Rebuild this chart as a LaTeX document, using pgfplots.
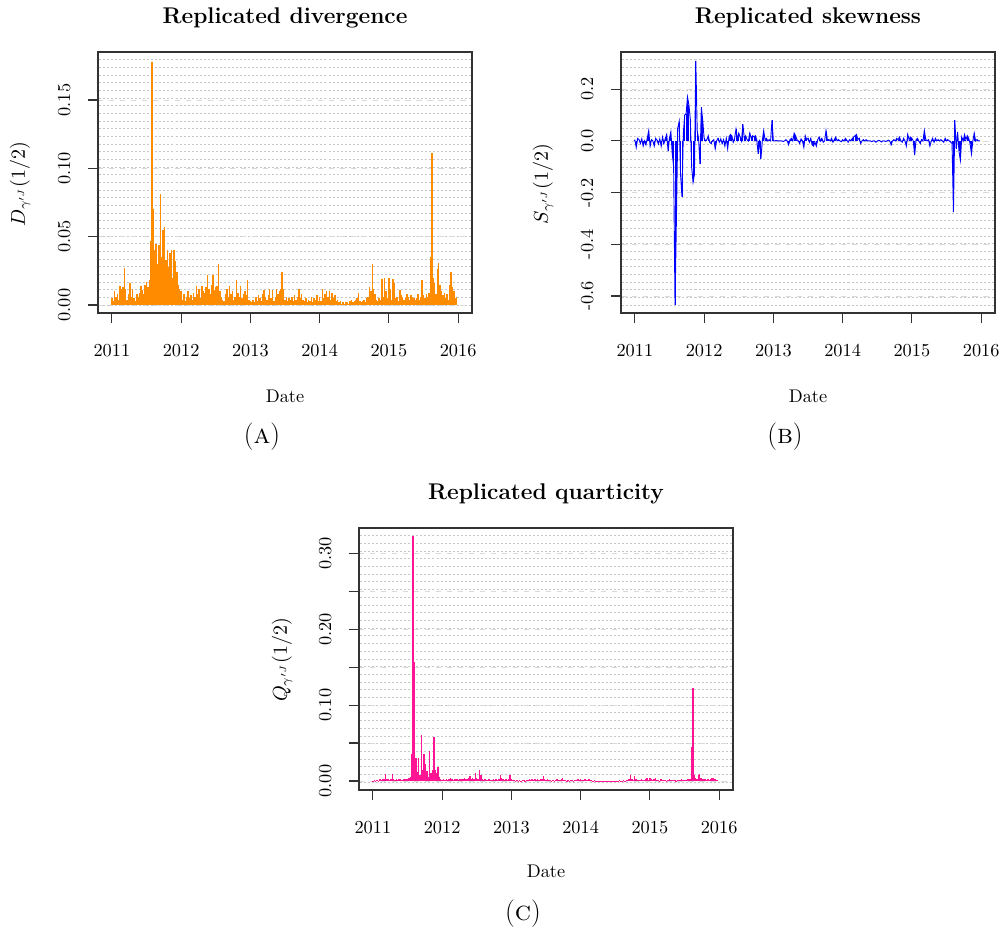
\documentclass[border=0pt]{standalone}
\usepackage{pgfplots}
\pgfplotsset{compat=1.18}
\usepackage{pgfplotstable}
\definecolor{rorange}{RGB}{255,140,0}
\definecolor{rpink}{RGB}{255,20,147}
\definecolor{rblue}{RGB}{0,0,255}

% Replicated divergence (every 0.02 year from 2011.00)
\pgfplotstableread[row sep=\\,header=false]{
0.005\\0.003\\0.010\\0.006\\0.008\\0.004\\0.014\\0.012\\0.013\\0.027\\
0.012\\0.004\\0.008\\0.016\\0.006\\0.012\\0.005\\0.003\\0.008\\0.006\\
0.009\\0.014\\0.011\\0.008\\0.015\\0.017\\0.013\\0.018\\0.047\\0.178\\
0.070\\0.040\\0.045\\0.030\\0.044\\0.081\\0.035\\0.055\\0.057\\0.033\\
0.040\\0.028\\0.038\\0.040\\0.020\\0.040\\0.032\\0.024\\0.015\\0.012\\
0.010\\0.004\\0.008\\0.003\\0.006\\0.010\\0.005\\0.007\\0.004\\0.009\\
0.006\\0.014\\0.008\\0.012\\0.005\\0.014\\0.010\\0.009\\0.013\\0.022\\
0.012\\0.008\\0.015\\0.022\\0.011\\0.013\\0.014\\0.030\\0.010\\0.006\\
0.004\\0.003\\0.008\\0.012\\0.006\\0.014\\0.008\\0.010\\0.004\\0.006\\
0.018\\0.009\\0.006\\0.014\\0.005\\0.008\\0.010\\0.007\\0.018\\0.004\\
0.003\\0.002\\0.004\\0.002\\0.006\\0.003\\0.007\\0.005\\0.003\\0.008\\
0.011\\0.006\\0.004\\0.007\\0.012\\0.005\\0.011\\0.003\\0.006\\0.012\\
0.008\\0.010\\0.012\\0.024\\0.012\\0.004\\0.006\\0.003\\0.005\\0.004\\
0.006\\0.003\\0.007\\0.004\\0.006\\0.012\\0.005\\0.008\\0.004\\0.003\\
0.005\\0.002\\0.004\\0.003\\0.006\\0.002\\0.005\\0.004\\0.007\\0.003\\
0.006\\0.003\\0.012\\0.005\\0.008\\0.010\\0.006\\0.010\\0.004\\0.009\\
0.005\\0.007\\0.003\\0.004\\0.002\\0.003\\0.001\\0.002\\0.001\\0.002\\
0.002\\0.001\\0.003\\0.004\\0.002\\0.003\\0.004\\0.005\\0.009\\0.003\\
0.002\\0.003\\0.004\\0.002\\0.005\\0.006\\0.013\\0.010\\0.030\\0.012\\
0.008\\0.004\\0.003\\0.005\\0.004\\0.019\\0.006\\0.020\\0.010\\0.005\\
0.020\\0.012\\0.004\\0.019\\0.016\\0.005\\0.006\\0.003\\0.011\\0.007\\
0.006\\0.004\\0.005\\0.008\\0.006\\0.004\\0.007\\0.006\\0.005\\0.004\\
0.005\\0.008\\0.004\\0.006\\0.018\\0.007\\0.005\\0.008\\0.006\\0.009\\
0.035\\0.111\\0.020\\0.016\\0.008\\0.026\\0.031\\0.015\\0.010\\0.007\\
0.009\\0.005\\0.008\\0.004\\0.015\\0.024\\0.013\\0.010\\0.005\\0.006\\
}\dataA

% Replicated skewness
\pgfplotstableread[row sep=\\,header=false]{
0.005\\-0.025\\0.01\\0.005\\-0.01\\0.008\\-0.02\\0.0\\-0.015\\0.012\\
0.04\\-0.02\\0.005\\0.0\\-0.02\\0.01\\0.003\\-0.012\\0.008\\-0.02\\
0.015\\-0.01\\0.01\\0.025\\-0.04\\0.012\\0.035\\-0.05\\-0.1\\-0.635\\
-0.3\\0.05\\0.075\\-0.13\\-0.215\\0.03\\0.1\\0.105\\0.17\\0.14\\
0.085\\-0.1\\-0.16\\-0.13\\0.31\\0.04\\0.01\\-0.09\\0.13\\0.08\\
0.01\\0.0\\0.005\\0.02\\-0.005\\-0.01\\0.0\\0.005\\-0.03\\0.0\\
0.01\\-0.005\\0.008\\-0.01\\0.005\\-0.02\\0.01\\-0.03\\0.015\\0.025\\
0.02\\-0.005\\0.01\\0.045\\0.005\\0.03\\0.015\\0.0\\0.065\\0.01\\
0.02\\0.005\\0.0\\0.03\\0.01\\0.02\\0.015\\0.02\\0.005\\-0.05\\
0.005\\-0.07\\0.0\\0.04\\0.005\\0.01\\0.0\\0.005\\0.0\\0.08\\
0.0\\0.0\\0.002\\0.0\\0.0\\0.0\\0.0\\-0.002\\0.0\\0.005\\
0.0\\-0.015\\0.005\\0.01\\0.0\\0.03\\0.02\\0.005\\0.0\\-0.01\\
0.008\\0.0\\-0.025\\0.02\\0.005\\0.01\\-0.005\\0.01\\-0.015\\-0.02\\
-0.005\\-0.02\\0.005\\0.015\\0.0\\0.01\\-0.005\\0.0\\0.04\\0.005\\
0.005\\0.0\\0.01\\-0.005\\0.005\\0.015\\0.0\\0.005\\0.0\\-0.003\\
0.005\\0.0\\0.01\\0.003\\-0.005\\0.005\\0.0\\0.01\\0.015\\0.02\\
0.025\\0.005\\0.01\\-0.01\\0.0\\0.005\\0.0\\0.005\\0.0\\0.0\\
0.0\\-0.003\\0.0\\0.0\\-0.005\\0.0\\0.002\\0.0\\-0.004\\0.0\\
0.0\\-0.002\\0.0\\0.003\\0.0\\-0.015\\0.0\\0.005\\0.0\\0.01\\
0.005\\0.015\\0.0\\-0.005\\0.01\\0.0\\-0.02\\0.025\\0.005\\0.015\\
0.01\\0.0\\-0.055\\0.005\\0.01\\0.0\\-0.01\\0.005\\0.0\\0.04\\
0.005\\0.0\\0.005\\-0.02\\0.0\\0.01\\-0.005\\0.01\\0.0\\0.005\\
0.0\\0.005\\0.0\\-0.005\\0.01\\0.0\\0.005\\0.0\\-0.005\\-0.01\\
-0.275\\0.08\\-0.03\\0.035\\-0.04\\-0.075\\0.015\\0.0\\0.025\\0.005\\
0.02\\0.01\\-0.01\\-0.05\\0.0\\0.03\\0.0\\0.005\\0.0\\0.0\\
}\dataB

% Replicated quarticity
\pgfplotstableread[row sep=\\,header=false]{
0.0005\\0.001\\0.0005\\0.001\\0.0005\\0.002\\0.001\\0.003\\0.002\\0.009\\
0.003\\0.002\\0.001\\0.002\\0.009\\0.002\\0.001\\0.002\\0.001\\0.003\\
0.002\\0.001\\0.002\\0.003\\0.002\\0.002\\0.004\\0.005\\0.035\\0.323\\
0.157\\0.03\\0.012\\0.03\\0.008\\0.06\\0.015\\0.035\\0.022\\0.013\\
0.005\\0.04\\0.01\\0.015\\0.058\\0.015\\0.01\\0.018\\0.005\\0.002\\
0.001\\0.002\\0.001\\0.003\\0.001\\0.002\\0.004\\0.002\\0.001\\0.003\\
0.002\\0.003\\0.001\\0.002\\0.003\\0.002\\0.004\\0.003\\0.002\\0.004\\
0.006\\0.003\\0.004\\0.002\\0.011\\0.004\\0.003\\0.014\\0.008\\0.002\\
0.001\\0.002\\0.001\\0.001\\0.002\\0.001\\0.001\\0.002\\0.001\\0.002\\
0.001\\0.003\\0.008\\0.004\\0.002\\0.001\\0.002\\0.001\\0.003\\0.008\\
0.002\\0.001\\0.001\\0.0005\\0.001\\0.0005\\0.001\\0.0005\\0.001\\0.001\\
0.0005\\0.001\\0.001\\0.002\\0.001\\0.002\\0.001\\0.002\\0.001\\0.002\\
0.001\\0.002\\0.003\\0.007\\0.002\\0.001\\0.002\\0.001\\0.001\\0.0005\\
0.001\\0.0005\\0.001\\0.002\\0.001\\0.001\\0.002\\0.004\\0.001\\0.001\\
0.0005\\0.001\\0.0005\\0.001\\0.001\\0.0005\\0.001\\0.001\\0.002\\0.001\\
0.002\\0.001\\0.001\\0.002\\0.001\\0.001\\0.002\\0.001\\0.001\\0.0005\\
0.001\\0.0005\\0.0005\\0.0003\\0.0005\\0.0003\\0.0003\\0.0005\\0.0003\\0.0003\\
0.0003\\0.0005\\0.0003\\0.0003\\0.0005\\0.0003\\0.0005\\0.0005\\0.001\\0.0005\\
0.0005\\0.001\\0.0005\\0.001\\0.001\\0.002\\0.008\\0.002\\0.001\\0.007\\
0.002\\0.001\\0.001\\0.001\\0.002\\0.001\\0.001\\0.002\\0.004\\0.001\\
0.004\\0.002\\0.001\\0.003\\0.004\\0.001\\0.001\\0.0005\\0.002\\0.001\\
0.001\\0.001\\0.0005\\0.001\\0.002\\0.001\\0.001\\0.001\\0.001\\0.0005\\
0.001\\0.001\\0.001\\0.002\\0.001\\0.001\\0.001\\0.002\\0.003\\0.002\\
0.045\\0.123\\0.008\\0.004\\0.003\\0.008\\0.009\\0.004\\0.002\\0.003\\
0.002\\0.001\\0.002\\0.001\\0.002\\0.004\\0.004\\0.002\\0.001\\0.001\\
}\dataC

\pgfplotsset{
  rbase/.style={
    scale only axis, width=204.35pt, height=142.6pt,
    xmin=2010.8, xmax=2016.2,
    xtick={2011,2012,2013,2014,2015,2016},
    xticklabels={2011,2012,2013,2014,2015,2016},
    xtick pos=bottom, ytick pos=left,
    tick align=outside, major tick length=5.5pt,
    axis line style={black!80,line width=0.7pt},
    every tick/.style={black!80,line width=0.6pt},
    xticklabel shift=8pt, yticklabel shift=6pt,
    yticklabel style={rotate=90,anchor=south},
    ymajorgrids, major grid style={gray!30, dashed, line width=0.4pt},
  },
}
\tikzset{rgrid/.style={black!22, line width=0.55pt, dash pattern=on 1.1pt off 1.1pt}}

\begin{document}
\begin{tikzpicture}[x=0.5464pt,y=-0.5464pt]
\path[use as bounding box] (0,0) rectangle (1003,931);
\foreach \k in {1,...,33}{
  \draw[rgrid] (99,{52+\k*261/34}) -- (471,{52+\k*261/34});
  \draw[rgrid] (622,{52+\k*261/34}) -- (994,{52+\k*261/34});
  \draw[rgrid] (360,{528+\k*262/34}) -- (732,{528+\k*262/34});
}
\coordinate (SA) at (98,313);
\coordinate (SB) at (621,313);
\coordinate (SC) at (359,790);

\begin{axis}[rbase, at={(SA)}, anchor=south west,
  ymin=-0.00585, ymax=0.1851,
  ytick={0,0.05,0.1,0.15}, yticklabels={0.00,0.05,0.10,0.15}]
\addplot[ycomb, rorange, line width=0.8pt] table[x expr=2011+0.02*\coordindex, y index=0] {\dataA};
\end{axis}

\begin{axis}[rbase, at={(SB)}, anchor=south west,
  ymin=-0.6657, ymax=0.344,
  ytick={-0.6,-0.4,-0.2,0,0.2}, yticklabels={-0.6,-0.4,-0.2,0.0,0.2}]
\addplot[ycomb, rblue, line width=0.5pt] table[x expr=2011+0.02*\coordindex, y index=0] {\dataB};
\addplot[sharp plot, rblue, line width=0.5pt] table[x expr=2011+0.02*\coordindex, y index=0] {\dataB};
\end{axis}

\begin{axis}[rbase, at={(SC)}, anchor=south west, height=143.2pt,
  ymin=-0.0119, ymax=0.3333,
  ytick={0,0.05,0.1,0.15,0.2,0.25,0.3}, yticklabels={0.00,,0.10,,0.20,,0.30}]
\addplot[ycomb, rpink, line width=0.8pt] table[x expr=2011+0.02*\coordindex, y index=0] {\dataC};
\end{axis}

\node[font=\fontsize{12.4}{14}\selectfont\bfseries] at (285,18) {Replicated divergence};
\node[font=\fontsize{12.4}{14}\selectfont\bfseries] at (808,18) {Replicated skewness};
\node[font=\fontsize{12.4}{14}\selectfont\bfseries] at (546,494) {Replicated quarticity};
\node at (285,396) {Date};
\node at (808,396) {Date};
\node at (546,871) {Date};
\node[font=\fontsize{15}{17}\selectfont] at (262,437) {(\textsc{a})};
\node[font=\fontsize{15}{17}\selectfont] at (785,437) {(\textsc{b})};
\node[font=\fontsize{15}{17}\selectfont] at (523,914) {(\textsc{c})};
\node[rotate=90,font=\fontsize{10.5}{12}\selectfont] at (20,184) {$D_{\gamma^{\prime J}}(1/2)$};
\node[rotate=90,font=\fontsize{10.5}{12}\selectfont] at (543,184) {$S_{\gamma^{\prime J}}(1/2)$};
\node[rotate=90,font=\fontsize{10.5}{12}\selectfont] at (282,660) {$Q_{\gamma^{\prime J}}(1/2)$};
\end{tikzpicture}
\end{document}
